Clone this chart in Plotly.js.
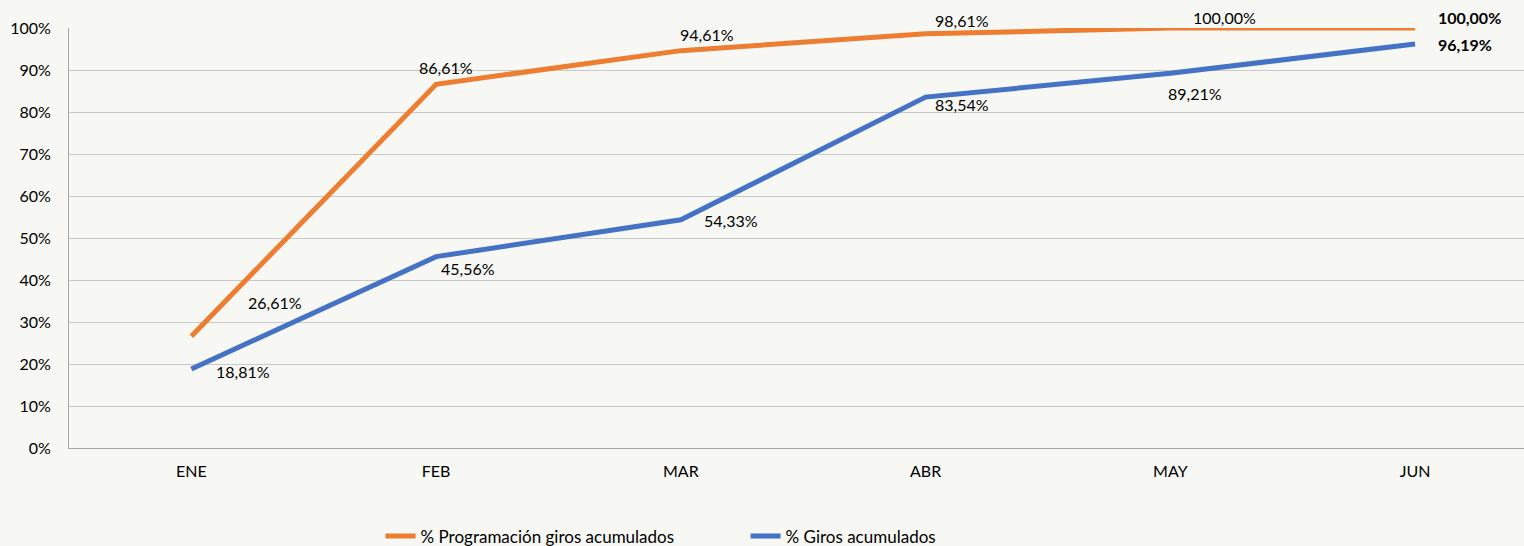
<!DOCTYPE html>
<html><head><meta charset="utf-8">
<script src="https://cdn.plot.ly/plotly-3.0.1.min.js"></script>
<style>html,body{margin:0;padding:0;background:#f7f7f3;}</style>
</head><body><div id="chart" style="width:1524px;height:546px;"></div>
<script>
const months = ["ENE","FEB","MAR","ABR","MAY","JUN"];
const programacion = [26.61, 86.61, 94.61, 98.61, 100.00, 100.00];
const giros = [18.81, 45.56, 54.33, 83.54, 89.21, 96.19];
const seriesNames = ["% Programación giros acumulados", "% Giros acumulados"];
// label offsets in pixels (style only)
const progShift = [[84,34],[10,17],[26,16],[36,13],[54,11],[54,11]];
const girosShift = [[52,-2],[32,-12],[50,-1],[36,-7],[25,-20],[50,0]];

function fmt(v){return v.toFixed(2).replace('.',',')+'%';}
const annotations = [];
function addLabels(vals, shifts){
  vals.forEach((v,i)=>{
    const last = i===vals.length-1;
    annotations.push({x:months[i], y:v, xref:'x', yref:'y', text: last? '<b>'+fmt(v)+'</b>' : fmt(v),
      showarrow:false, xshift:shifts[i][0], yshift:shifts[i][1],
      font:{family:'Lato, "Noto Sans", sans-serif', size:16, color:'#000'}});
  });
}
addLabels(programacion, progShift);
addLabels(giros, girosShift);

const traces = [
  {x:months, y:programacion, name:seriesNames[0], type:'scatter', mode:'lines', line:{color:'#ED7D31', width:5}, cliponaxis:false},
  {x:months, y:giros, name:seriesNames[1], type:'scatter', mode:'lines', line:{color:'#4472C4', width:5}, cliponaxis:false}
];
const layout = {
  width:1524, height:546,
  paper_bgcolor:'#f7f7f3', plot_bgcolor:'#f7f7f3',
  margin:{l:69, r:0, t:28, b:98, autoexpand:false},
  font:{family:'Lato, "Noto Sans", sans-serif', size:16, color:'#000'},
  xaxis:{type:'category', range:[-0.5, 5.445], showgrid:false, showline:true, linecolor:'#a6a6a6', linewidth:1,
    ticks:'', ticklabelstandoff:9, zeroline:false, fixedrange:true},
  yaxis:{range:[0,100], dtick:10, ticksuffix:'%', showgrid:true, gridcolor:'#c9c9c9', gridwidth:1,
    showline:true, linecolor:'#a6a6a6', linewidth:1, ticks:'', ticklabelstandoff:14, zeroline:false},
  showlegend:true,
  legend:{orientation:'h', x:0.465, xanchor:'center', y:-0.168, yanchor:'top', font:{size:17}, traceorder:'normal', entrywidth:320},
  annotations:annotations
};
Plotly.newPlot('chart', traces, layout, {displayModeBar:false, staticPlot:true});
</script></body></html>
